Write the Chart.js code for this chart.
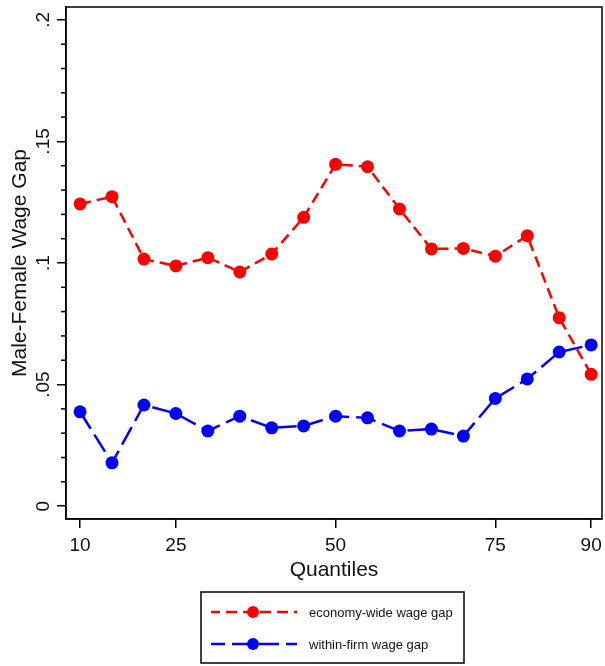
<!DOCTYPE html>
<html>
<head>
<meta charset="utf-8">
<script src="https://cdn.jsdelivr.net/npm/chart.js@4/dist/chart.umd.min.js"></script>
<style>
  html, body { margin: 0; padding: 0; background: #fff; }
  #wrap { width: 605px; height: 666px; }
</style>
</head>
<body>
<div id="wrap"><canvas id="gapChart" width="605" height="666"></canvas></div>
<script>
// quantiles and the two wage-gap series
const quantiles = [10, 15, 20, 25, 30, 35, 40, 45, 50, 55, 60, 65, 70, 75, 80, 85, 90];
const economyWide = [0.1243, 0.1273, 0.1016, 0.0988, 0.1022, 0.0963, 0.1037, 0.1188, 0.1406,
                     0.1396, 0.1222, 0.1058, 0.1060, 0.1028, 0.1112, 0.0775, 0.0542];
const withinFirm = [0.0388, 0.0178, 0.0416, 0.0381, 0.0309, 0.0370, 0.0322, 0.0330, 0.0370,
                    0.0363, 0.0309, 0.0317, 0.0288, 0.0443, 0.0523, 0.0634, 0.0663];
const seriesLabels = ['economy-wide wage gap', 'within-firm wage gap'];

// axis ticks
const xTickValues = [10, 25, 50, 75, 90];
const yTickValues = [0, 0.05, 0.1, 0.15, 0.2];
const yTickLabels = ['0', '.05', '.1', '.15', '.2'];
const yMinorTicks = [0.01, 0.02, 0.03, 0.04, 0.06, 0.07, 0.08, 0.09, 0.11, 0.12, 0.13, 0.14,
                     0.16, 0.17, 0.18, 0.19];

const FONT = '"Liberation Sans", Arial, Helvetica, sans-serif';

function toPoints(values) {
    return quantiles.map(function(q, i) { return { x: q, y: values[i] }; });
}

// box around the plot region plus the short minor ticks on the y axis
const frameAndMinorTicks = {
    id: 'frameAndMinorTicks',
    beforeDatasetsDraw(chart) {
        const ctx = chart.ctx;
        const a = chart.chartArea;
        const y = chart.scales.y;
        ctx.save();
        ctx.strokeStyle = '#000';
        ctx.lineWidth = 1.5;
        ctx.strokeRect(a.left, a.top, a.right - a.left, a.bottom - a.top);
        yMinorTicks.forEach(function(v) {
            const py = y.getPixelForValue(v);
            ctx.beginPath();
            ctx.moveTo(a.left - 5, py);
            ctx.lineTo(a.left, py);
            ctx.stroke();
        });
        ctx.restore();
    }
};

// boxed legend under the x axis: dashed line with a marker in the middle
const boxLegend = {
    id: 'boxLegend',
    afterDraw(chart) {
        const ctx = chart.ctx;
        const box = { left: 201, top: 592, width: 263, height: 71 };
        const rows = [612, 644];
        ctx.save();
        ctx.fillStyle = '#fff';
        ctx.fillRect(box.left, box.top, box.width, box.height);
        ctx.strokeStyle = '#000';
        ctx.lineWidth = 1.5;
        ctx.strokeRect(box.left, box.top, box.width, box.height);
        chart.data.datasets.forEach(function(ds, i) {
            const ry = rows[i];
            ctx.strokeStyle = ds.borderColor;
            ctx.lineWidth = ds.borderWidth;
            ctx.setLineDash(ds.borderDash);
            ctx.lineDashOffset = i === 0 ? 2 : 6;
            ctx.beginPath();
            ctx.moveTo(211, ry);
            ctx.lineTo(297, ry);
            ctx.stroke();
            ctx.setLineDash([]);
            ctx.fillStyle = ds.backgroundColor;
            ctx.beginPath();
            ctx.arc(253, ry, 6, 0, Math.PI * 2);
            ctx.fill();
            ctx.fillStyle = '#111';
            ctx.font = '13px ' + FONT;
            ctx.textBaseline = 'middle';
            ctx.fillText(ds.label, 309, ry + 1);
        });
        ctx.restore();
    }
};

const ctx = document.getElementById('gapChart').getContext('2d');
const gapChart = new Chart(ctx, {
    type: 'line',
    data: {
        datasets: [{
            label: seriesLabels[0],
            data: toPoints(economyWide),
            borderColor: '#ff0000',
            backgroundColor: '#ff0000',
            borderWidth: 2.5,
            borderDash: [11, 6],
            pointRadius: 6.5,
            pointHoverRadius: 6.5,
            pointBorderWidth: 0,
            tension: 0
        }, {
            label: seriesLabels[1],
            data: toPoints(withinFirm),
            borderColor: '#0000ff',
            backgroundColor: '#0000ff',
            borderWidth: 2.5,
            borderDash: [20, 7],
            pointRadius: 6.5,
            pointHoverRadius: 6.5,
            pointBorderWidth: 0,
            tension: 0
        }]
    },
    options: {
        responsive: false,
        animation: false,
        layout: { autoPadding: false, padding: { top: 7, right: 3, bottom: 77, left: 0 } },
        plugins: {
            legend: { display: false },
            tooltip: { enabled: false }
        },
        scales: {
            x: {
                type: 'linear',
                min: 7.8,
                max: 91.7,
                afterBuildTicks: function(scale) {
                    scale.ticks = xTickValues.map(function(v) { return { value: v }; });
                },
                afterFit: function(scale) {
                    scale.height = 70;
                    scale.paddingLeft = 0;
                    scale.paddingRight = 0;
                },
                grid: { drawOnChartArea: false, drawTicks: true, tickLength: 9, color: '#000', lineWidth: 1.5 },
                border: { display: true, color: '#000', width: 1.5 },
                ticks: {
                    color: '#111',
                    font: { family: FONT, size: 19 },
                    padding: 6,
                    maxRotation: 0,
                    autoSkip: false
                },
                title: {
                    display: true,
                    text: 'Quantiles',
                    color: '#111',
                    font: { family: FONT, size: 21 },
                    padding: { top: 0, bottom: 6 }
                }
            },
            y: {
                type: 'linear',
                min: -0.0053,
                max: 0.2053,
                afterBuildTicks: function(scale) {
                    scale.ticks = yTickValues.map(function(v) { return { value: v }; });
                },
                afterFit: function(scale) {
                    scale.width = 66;
                    scale.paddingTop = 0;
                    scale.paddingBottom = 0;
                },
                grid: { drawOnChartArea: false, drawTicks: true, tickLength: 9, color: '#000', lineWidth: 1.5 },
                border: { display: true, color: '#000', width: 1.5 },
                ticks: {
                    color: '#111',
                    font: { family: FONT, size: 19 },
                    padding: 0,
                    minRotation: 90,
                    maxRotation: 90,
                    crossAlign: 'center',
                    autoSkip: false,
                    callback: function(value) {
                        const i = yTickValues.indexOf(value);
                        return i >= 0 ? yTickLabels[i] : '';
                    }
                },
                title: {
                    display: true,
                    text: 'Male-Female Wage Gap',
                    color: '#111',
                    font: { family: FONT, size: 21 },
                    padding: { top: 8, bottom: 0 }
                }
            }
        }
    },
    plugins: [frameAndMinorTicks, boxLegend]
});
</script>
</body>
</html>
